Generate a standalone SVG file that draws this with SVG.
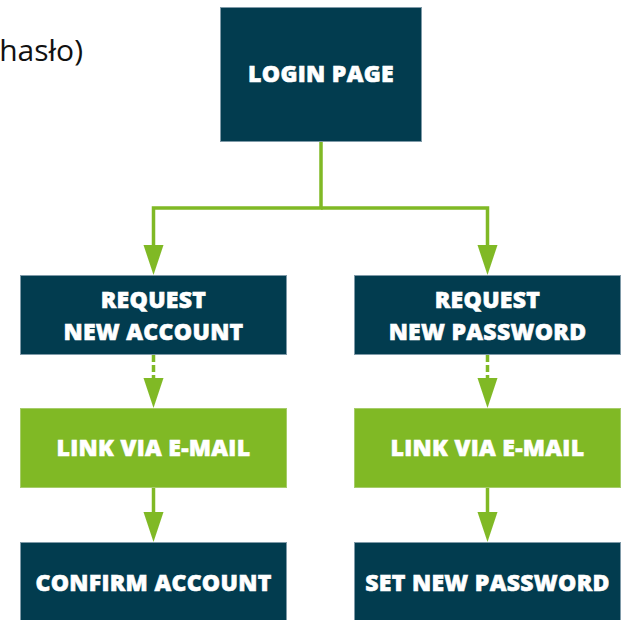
<svg xmlns="http://www.w3.org/2000/svg" width="621" height="620" viewBox="0 0 621 620">
<style>
.dark{fill:#023c4f;stroke:#7f9aa8;stroke-width:1}
.green{fill:#80b925;stroke:#a6cc6a;stroke-width:1}
.lbl{font-family:"Open Sans","Liberation Sans",sans-serif;font-weight:800;font-size:23px;fill:#ffffff;stroke:#ffffff;stroke-width:0.6;letter-spacing:0.3px;text-anchor:middle}
.conn{fill:none;stroke:#80b925;stroke-width:3.5}
.dash{stroke-dasharray:7 3}
</style>
<defs>
<marker id="arr" markerUnits="userSpaceOnUse" markerWidth="30" markerHeight="20" refX="0" refY="10" orient="auto" overflow="visible">
<path d="M0,0 L30,10 L0,20 z" fill="#80b925"/>
</marker>
</defs>
<rect width="621" height="620" fill="#ffffff"/>
<text x="83" y="61" font-family="Open Sans, Liberation Sans, sans-serif" font-size="30" fill="#111111" text-anchor="end">hasło)</text>
<g id="connectors">
<path class="conn" d="M321,142 V208 H153.5 V245" marker-end="url(#arr)"/>
<path class="conn" d="M321,208 H487.5 V245" marker-end="url(#arr)"/>
<path class="conn dash" d="M153.5,355 V378" marker-end="url(#arr)"/>
<path class="conn dash" d="M487.5,355 V378" marker-end="url(#arr)"/>
<path class="conn" d="M153.5,488 V512" marker-end="url(#arr)"/>
<path class="conn" d="M487.5,488 V512" marker-end="url(#arr)"/>
</g>
<g id="login">
<rect class="dark" x="220.5" y="7.5" width="201" height="134"/>
<text class="lbl" x="321" y="82">LOGIN PAGE</text>
</g>
<g id="req-account">
<rect class="dark" x="20.5" y="275.5" width="266" height="79"/>
<text class="lbl" x="153.5" y="308">REQUEST</text>
<text class="lbl" x="153.5" y="340">NEW ACCOUNT</text>
</g>
<g id="req-password">
<rect class="dark" x="354.5" y="275.5" width="266" height="79"/>
<text class="lbl" x="487.5" y="308">REQUEST</text>
<text class="lbl" x="487.5" y="340">NEW PASSWORD</text>
</g>
<g id="link-account">
<rect class="green" x="20.5" y="408.5" width="266" height="79"/>
<text class="lbl" x="153.5" y="456">LINK VIA E-MAIL</text>
</g>
<g id="link-password">
<rect class="green" x="354.5" y="408.5" width="266" height="79"/>
<text class="lbl" x="487.5" y="456">LINK VIA E-MAIL</text>
</g>
<g id="confirm-account">
<rect class="dark" x="20.5" y="542.5" width="266" height="79"/>
<text class="lbl" x="153.5" y="591">CONFIRM ACCOUNT</text>
</g>
<g id="set-password">
<rect class="dark" x="354.5" y="542.5" width="266" height="79"/>
<text class="lbl" x="487.5" y="591">SET NEW PASSWORD</text>
</g>
</svg>
